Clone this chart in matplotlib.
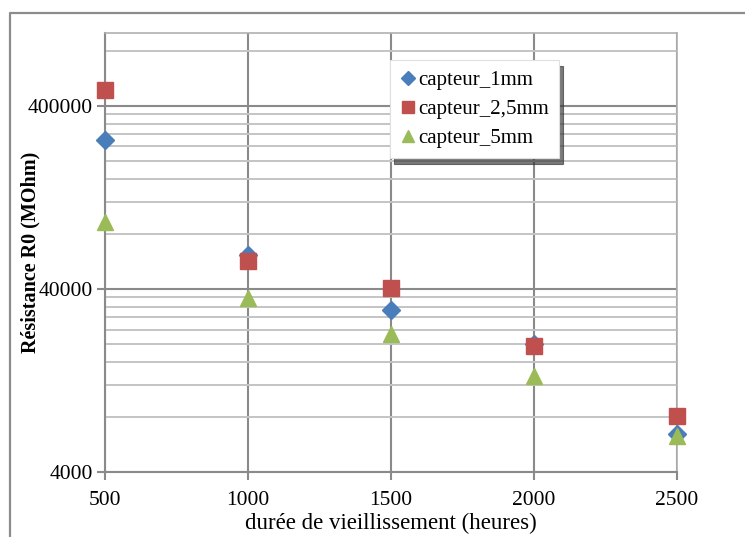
import numpy as np
import matplotlib
matplotlib.use('Agg')
import matplotlib.pyplot as plt
from matplotlib.lines import Line2D

# données
duree = [500, 1000, 1500, 2000, 2500]
capteur_1mm = [261000, 61400, 30500, 19900, 6450]
capteur_2_5mm = [489000, 56900, 40400, 19500, 8070]
capteur_5mm = [93300, 35700, 22700, 13400, 6300]

y_major = [4000, 40000, 400000]
y_minor = [m * d for d in (4000, 40000, 400000) for m in range(2, 10)]

plt.rcParams['font.family'] = ['Liberation Serif', 'DejaVu Serif']

fig = plt.figure(figsize=(7.45, 5.37), dpi=100)
ax = fig.add_axes([105 / 745, 1 - 472 / 537, (677 - 105) / 745, (472 - 33) / 537])

# cadre du graphique (coupé à droite et en bas)
fig.add_artist(Line2D([10 / 745, 10 / 745, 1.0], [0.0, 1 - 13 / 537, 1 - 13 / 537],
                      transform=fig.transFigure, color='#8c8c8c', lw=1.6))

ax.set_yscale('log')
ax.set_xticks([500, 1000, 1500, 2000, 2500])
ax.set_yticks(y_major)
ax.set_yticks(y_minor, minor=True)
ax.set_yticklabels([str(v) for v in y_major])
ax.yaxis.set_minor_formatter(plt.NullFormatter())
ax.set_xlim(500, 2500)
ax.set_ylim(4000, 1000000)

ax.grid(True, which='major', axis='both', color='#8a8a8a', lw=1.5)
ax.grid(True, which='minor', axis='y', color='#c4c4c4', lw=1.4)
ax.set_axisbelow(True)

for s in ['left', 'bottom']:
    ax.spines[s].set_color('#8a8a8a')
    ax.spines[s].set_linewidth(1.5)
for s in ['top', 'right']:
    ax.spines[s].set_color('#b0b0b0')
    ax.spines[s].set_linewidth(1.2)

ax.tick_params(which='major', direction='out', length=6, width=1.5, color='#8a8a8a',
               labelsize=15.5, pad=3)
ax.tick_params(axis='x', pad=8)
ax.tick_params(which='minor', length=0)

ax.plot(duree, capteur_1mm, 'D', color='#4a7ebb', ms=9, mec='#4a7ebb',
        label='capteur_1mm', zorder=3, clip_on=False)
ax.plot(duree, capteur_2_5mm, 's', color='#c0504d', ms=11, mec='#c0504d',
        label='capteur_2,5mm', zorder=3, clip_on=False)
ax.plot(duree, capteur_5mm, '^', color='#9bbb59', ms=12, mec='#9bbb59',
        label='capteur_5mm', zorder=3, clip_on=False)

ax.set_xlabel('durée de vieillissement (heures)', fontsize=16.5, labelpad=2)
ax.set_ylabel('Résistance R0 (MOhm)', fontsize=14.5, fontweight='bold')
ax.yaxis.set_label_coords(-0.112, 0.5)

leg = ax.legend(loc='upper left', bbox_to_anchor=(390 / 745, 1 - 60 / 537),
                bbox_transform=fig.transFigure, borderaxespad=0, fontsize=15,
                frameon=True, fancybox=False, shadow={'ox': 3, 'oy': -4, 'color': '#333333', 'alpha': 0.65},
                handlelength=0.7, handletextpad=0.15, labelspacing=0.45,
                borderpad=0.5, markerscale=0.75)
leg.get_frame().set_edgecolor('#e0e0e0')
leg.get_frame().set_linewidth(0.8)
leg.get_frame().set_alpha(1)

fig.savefig('out.png', dpi=100)
